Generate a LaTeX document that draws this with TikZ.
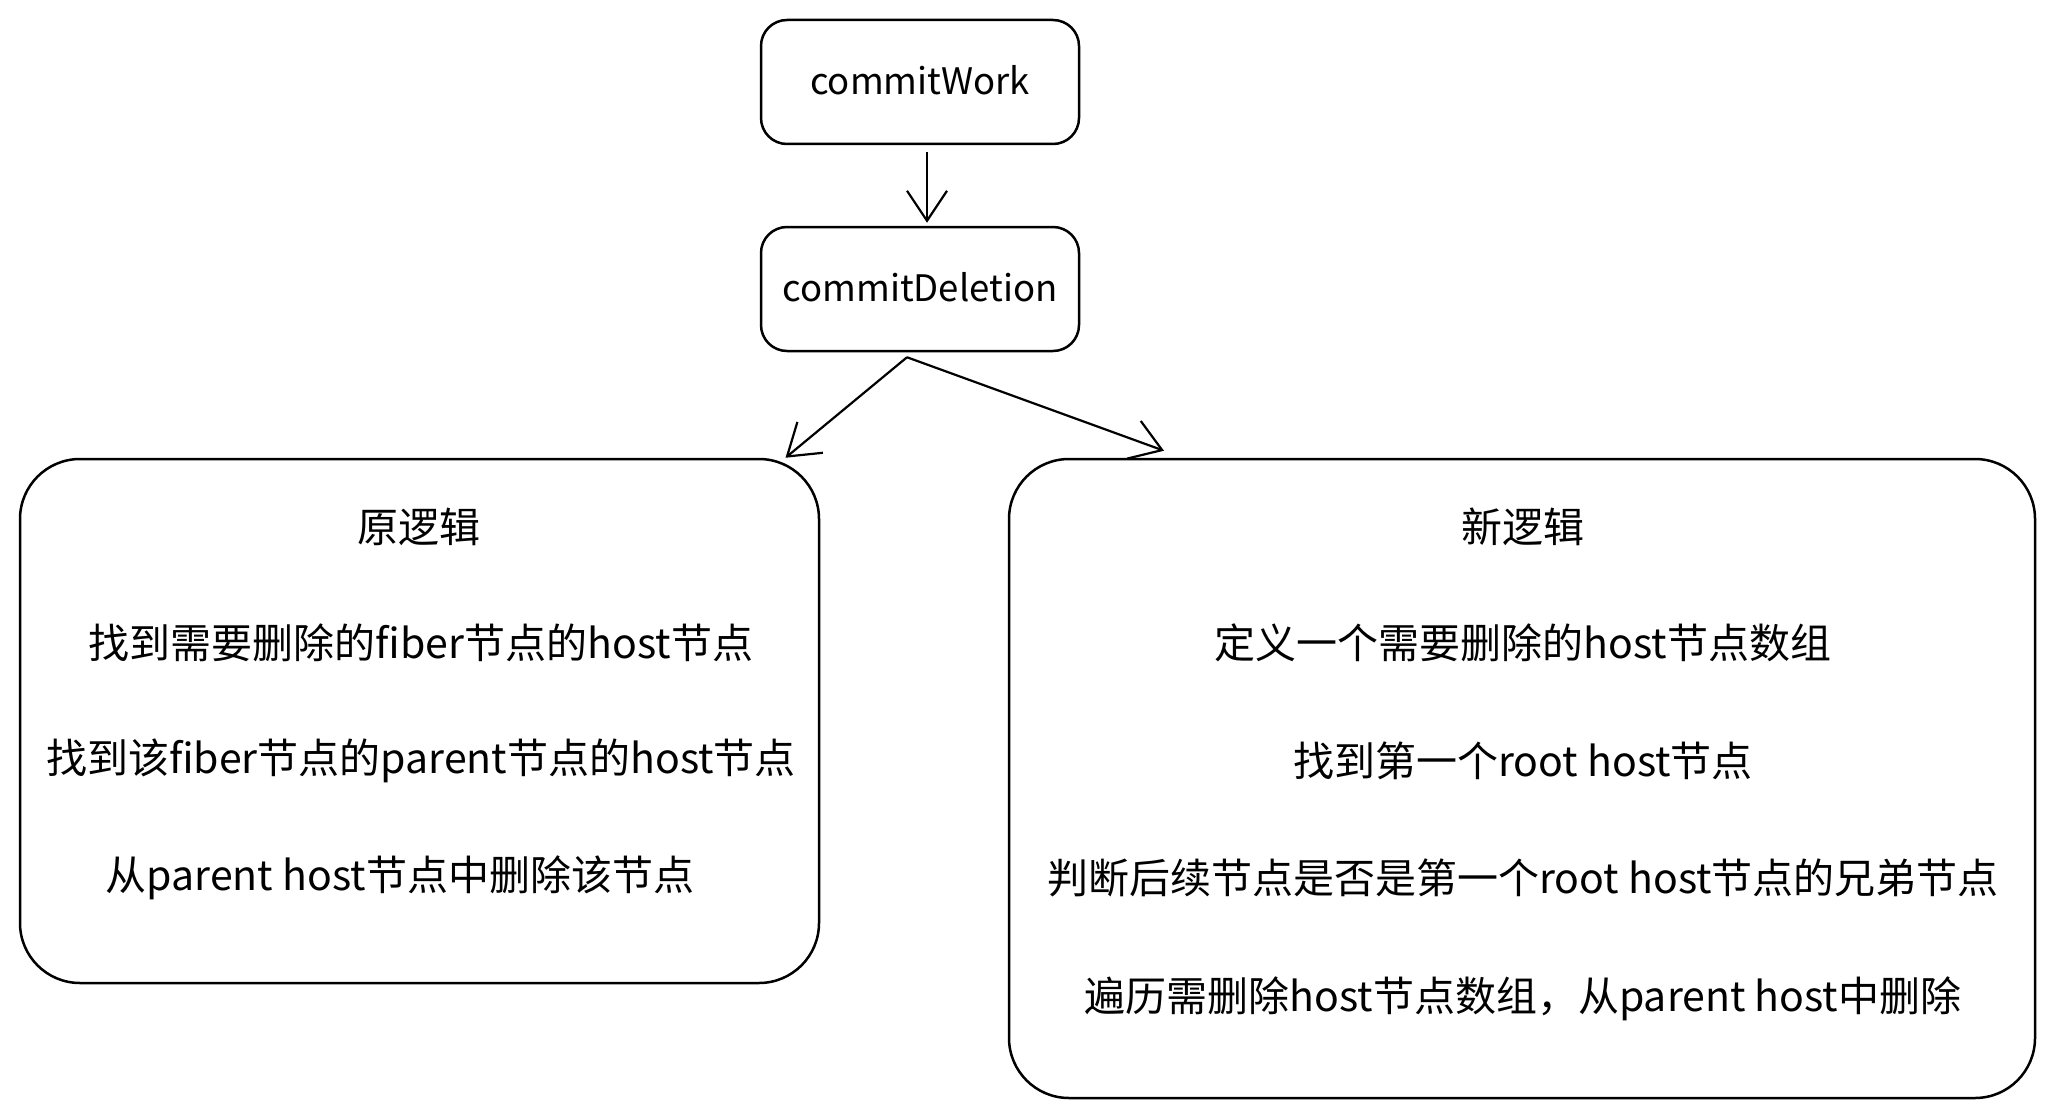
\documentclass[tikz,border=0pt]{standalone}
\usepackage{fontspec}
\setmainfont{Noto Sans CJK SC}
\usetikzlibrary{arrows.meta}
\tikzset{
  box/.style={draw=black, line width=2.5pt, rounded corners=#1, inner sep=0pt},
  lbl/.style={font=\fontsize{41}{48}\selectfont, inner sep=0pt, anchor=center},
  slbl/.style={font=\fontsize{36.5}{44}\selectfont, inner sep=0pt, anchor=center},
  conn/.style={draw=black, line width=2.2pt, -{Straight Barb[length=30pt,width=40pt,line width=2.2pt]}}
}
\begin{document}
\begin{tikzpicture}[x=1pt,y=-1pt]
\useasboundingbox[fill=white] (0,0) rectangle (2055,1118);
% top boxes
\node[box=26, minimum width=318pt, minimum height=124pt] (cw) at (920,82) {};
\node[slbl] (cwt) at (920,80) {commitWork};
\node[box=26, minimum width=318pt, minimum height=124pt] (cd) at (920,289) {};
\node[slbl] (cdt) at (920,287) {commitDeletion};
% big boxes
\node[box=60, minimum width=799pt, minimum height=524pt] (lb) at (419.5,721) {};
\node[box=60, minimum width=1026pt, minimum height=639pt] (rb) at (1522,778.5) {};
% left texts
\node[lbl] (l0) at (419,527) {原逻辑};
\node[lbl] (l1) at (421,643) {找到需要删除的fiber节点的host节点};
\node[lbl] (l2) at (421,761) {找到该fiber节点的parent节点的host节点};
\node[lbl] (l3) at (400,878) {从parent host节点中删除该节点};
% right texts
\node[lbl] (r0) at (1523,527) {新逻辑};
\node[lbl] (r1) at (1523,643) {定义一个需要删除的host节点数组};
\node[lbl] (r2) at (1523,761) {找到第一个root host节点};
\node[lbl] (r3) at (1523,878) {判断后续节点是否是第一个root host节点的兄弟节点};
\node[lbl] (r4) at (1523,999) {遍历需删除host节点数组，从parent host中删除};
% connectors
\draw[conn] ([xshift=7pt,yshift=-7pt]cw.south) -- ([xshift=7pt,yshift=3pt]cd.north);
\draw[conn] ([xshift=-13pt,yshift=-5pt]cd.south) -- ([xshift=366pt]lb.north);
\draw[conn] ([xshift=-13pt,yshift=-5pt]cd.south) -- ([xshift=-358pt,yshift=7pt]rb.north);
\end{tikzpicture}
\end{document}
